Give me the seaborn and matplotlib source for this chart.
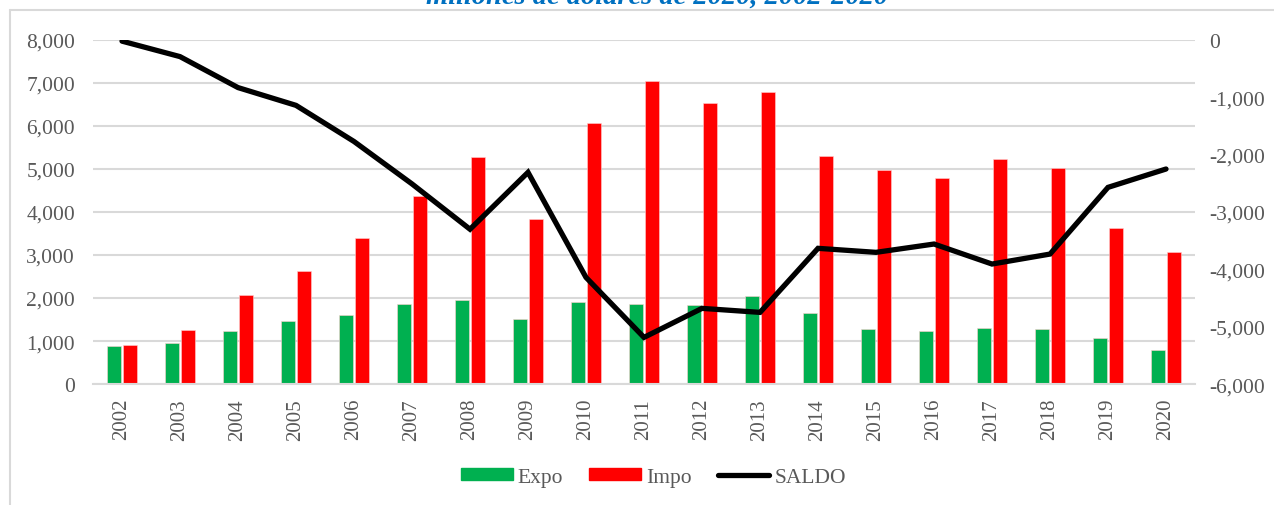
import pandas as pd
import numpy as np
import matplotlib
matplotlib.use("Agg")
import matplotlib.pyplot as plt
import matplotlib.ticker as ticker
from matplotlib.patches import Patch
from matplotlib.lines import Line2D
import seaborn as sns

# Data (millones de dólares de 2020)
years = [str(y) for y in range(2002, 2021)]
expo = [884, 946, 1233, 1457, 1612, 1860, 1961, 1505, 1899, 1860, 1837, 2047,
        1651, 1279, 1225, 1302, 1279, 1070, 798]
impo = [907, 1248, 2077, 2628, 3395, 4372, 5279, 3837, 6062, 7046, 6543, 6791,
        5302, 4984, 4791, 5233, 5023, 3635, 3063]
saldo = [-20, -290, -830, -1140, -1770, -2510, -3300, -2308, -4140, -5186, -4680,
         -4750, -3633, -3703, -3558, -3907, -3733, -2570, -2250]

green = "#00B050"
red = "#FF0000"
grey_txt = "#595959"
grid_c = "#D9D9D9"

df = pd.DataFrame({"year": years * 2,
                   "valor": expo + impo,
                   "serie": ["Expo"] * len(years) + ["Impo"] * len(years)})

sns.set_theme(style="white")
plt.rcParams["font.family"] = ["Liberation Serif", "DejaVu Serif"]

fig = plt.figure(figsize=(12.74, 5.06), dpi=100)
ax = fig.add_axes([0.073, 0.239, 0.865, 0.680])

sns.barplot(data=df, x="year", y="valor", hue="serie", palette=[green, red],
            saturation=1, width=0.56, gap=0.18, ax=ax, legend=False,
            edgecolor="#FFD0D0", linewidth=0.4)

ax.set_ylim(0, 8000)
ax.set_xlim(-0.5, len(years) - 0.5)
ax.yaxis.set_major_locator(ticker.MultipleLocator(1000))
ax.yaxis.set_major_formatter(ticker.FuncFormatter(lambda v, p: f"{v:,.0f}"))
ax.grid(axis="y", color=grid_c, linewidth=1.5)
ax.set_axisbelow(True)
ax.set_xlabel("")
ax.set_ylabel("")
for s in ["top", "right", "left"]:
    ax.spines[s].set_visible(False)
ax.spines["bottom"].set_color(grid_c)
ax.spines["bottom"].set_linewidth(1.5)
ax.tick_params(axis="y", length=0, labelsize=15.5, labelcolor=grey_txt, pad=13)
ax.tick_params(axis="x", length=0, labelsize=15, labelcolor=grey_txt, pad=10,
               labelrotation=90)

# SALDO on secondary axis
ax2 = ax.twinx()
sns.lineplot(x=np.arange(len(years)), y=saldo, ax=ax2, color="black",
             linewidth=3.8, solid_capstyle="round", solid_joinstyle="miter")
ax2.set_ylim(-6000, 0)
ax2.yaxis.set_major_locator(ticker.MultipleLocator(1000))
ax2.yaxis.set_major_formatter(ticker.FuncFormatter(lambda v, p: f"{v:,.0f}"))
ax2.tick_params(axis="y", length=0, labelsize=15.5, labelcolor=grey_txt, pad=10)
ax2.set_ylabel("")
for s in ax2.spines.values():
    s.set_visible(False)

handles = [Patch(color=green, label="Expo"),
           Patch(color=red, label="Impo"),
           Line2D([0], [0], color="black", linewidth=3.8,
                  solid_capstyle="round", label="SALDO")]
fig.legend(handles=handles, loc="center", bbox_to_anchor=(0.513, 0.055),
           ncol=3, frameon=False, fontsize=15.5, labelcolor=grey_txt,
           handlelength=2.4, handleheight=0.45, handletextpad=0.25,
           columnspacing=1.2)

# chart frame and clipped title
fig.add_artist(Line2D([10 / 1274, 10 / 1274], [0, 1 - 11 / 506],
                      color=grid_c, linewidth=1.5, transform=fig.transFigure))
fig.add_artist(Line2D([10 / 1274, 1], [1 - 11 / 506, 1 - 11 / 506],
                      color=grid_c, linewidth=1.5, transform=fig.transFigure))
fig.text(0.516, 1 - 3.5 / 506, "millones de dólares de 2020, 2002-2020",
         ha="center", va="baseline", fontsize=20.5, fontweight="bold",
         fontstyle="italic", color="#0070C0")

fig.savefig("out.png", dpi=100)
